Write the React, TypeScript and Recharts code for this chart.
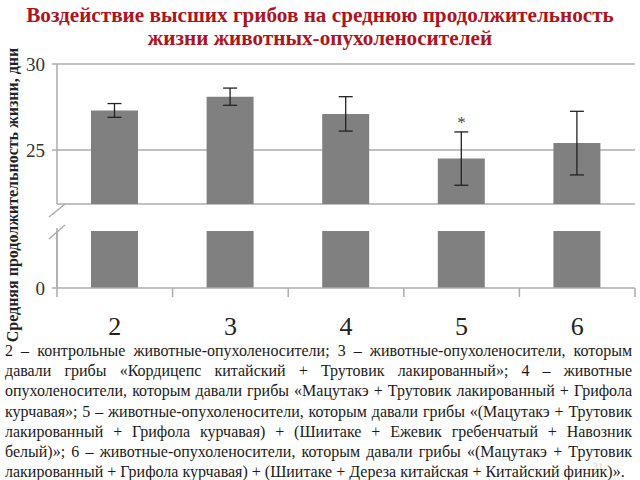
import React from 'react';
import { ComposedChart, Bar, Line, XAxis, YAxis, CartesianGrid, ErrorBar } from 'recharts';

const groups = ['2', '3', '4', '5', '6'];
const meanLife = [27.3, 28.1, 27.1, 24.5, 25.4];
const errLife = [0.4, 0.5, 1.0, 1.55, 1.85];
const significance = ['', '', '', '*', ''];
const upperTicks = [25, 30];
const lowerTicks = [0];
const upperDomain: [number, number] = [21.86, 30];
const lowerDomain: [number, number] = [0, 3.3];

const titleLines = [
  'Воздействие высших грибов на среднюю продолжительность',
  'жизни животных-опухоленосителей',
];
const yLabel = 'Средняя продолжительность жизни, дни';
const captionLines = [
  '2 – контрольные животные-опухоленосители; 3 – животные-опухоленосители, которым',
  'давали грибы «Кордицепс китайский + Трутовик лакированный»; 4 – животные',
  'опухоленосители, которым давали грибы «Мацутакэ + Трутовик лакированный + Грифола',
  'курчавая»; 5 – животные-опухоленосители, которым давали грибы «(Мацутакэ + Трутовик',
  'лакированный + Грифола курчавая) + (Шиитаке + Ежевик гребенчатый + Навозник',
  'белый)»; 6 – животные-опухоленосители, которым давали грибы «(Мацутакэ + Трутовик',
  'лакированный + Грифола курчавая) + (Шиитаке + Дереза китайская + Китайский финик)».',
];
const pageNumber = '31';

const data = groups.map((g, i) => ({
  group: g,
  mean: meanLife[i],
  err: errLife[i],
  sig: significance[i],
  star: significance[i] ? meanLife[i] + errLife[i] : null,
}));

const GRID = '#acacac';
const BAR = '#808080';
const FONT = 'Liberation Serif';

const yTickStyle = { fontSize: 19, fill: '#333', fontFamily: FONT };

const StarDot = (props: any) => {
  const { cx, cy, payload, index } = props;
  if (!payload || !payload.sig || cy == null) return <g key={`s${index}`} />;
  return (
    <text key={`s${index}`} x={cx} y={cy - 4} textAnchor="middle" fontSize={17} fill="#444" fontFamily={FONT}>
      {payload.sig}
    </text>
  );
};

const CatTick = (props: any) => {
  const { x, y, payload, index, width, visibleTicksCount } = props;
  const half = width && visibleTicksCount ? width / visibleTicksCount / 2 : payload.offset;
  return (
    <g>
      <line x1={x + half} x2={x + half} y1={y} y2={y + 9} stroke={GRID} strokeWidth={1.5} />
      {index === 0 && <line x1={x - half} x2={x - half} y1={y - 60} y2={y + 9} stroke={GRID} strokeWidth={1.5} />}
      <text x={x} y={y + 47} textAnchor="middle" fontSize={26} fill="#222" fontFamily={FONT}>
        {payload.value}
      </text>
    </g>
  );
};

export default function App() {
  return (
    <div style={{ position: 'absolute', left: 0, top: 0, width: 640, height: 480, background: '#fff', overflow: 'hidden', fontFamily: FONT }}>
      <div style={{ position: 'absolute', top: 4, left: 0, width: 640, textAlign: 'center', color: '#ad1420', fontWeight: 'bold', fontSize: 21.2, lineHeight: '23px', fontFamily: FONT }}>
        {titleLines.map((t, i) => (
          <div key={i}>{t}</div>
        ))}
      </div>

      <div style={{ position: 'absolute', left: 0, top: 0 }}>
        <ComposedChart width={640} height={210} data={data} margin={{ top: 64, right: 5, bottom: 6, left: 0 }}>
          <CartesianGrid vertical={false} stroke={GRID} strokeWidth={1.5} />
          <XAxis dataKey="group" hide />
          <YAxis
            domain={upperDomain}
            ticks={upperTicks}
            allowDataOverflow
            width={57}
            tick={yTickStyle}
            tickSize={5}
            tickMargin={7}
            axisLine={{ stroke: GRID, strokeWidth: 1.5 }}
            tickLine={{ stroke: GRID, strokeWidth: 1.5 }}
          />
          <Bar dataKey="mean" fill={BAR} barSize={47} isAnimationActive={false}>
            <ErrorBar dataKey="err" width={7} stroke="#222" strokeWidth={1.3} direction="y" />
          </Bar>
          <Line dataKey="star" stroke="none" dot={StarDot} activeDot={false} isAnimationActive={false} />
        </ComposedChart>
      </div>

      <div style={{ position: 'absolute', left: 0, top: 0 }}>
        <ComposedChart width={640} height={350} data={data} margin={{ top: 231, right: 5, bottom: 0, left: 0 }}>
          <XAxis
            dataKey="group"
            height={62}
            tickSize={0}
            tickMargin={0}
            tickLine={false}
            axisLine={{ stroke: GRID, strokeWidth: 1.5 }}
            tick={CatTick}
            interval={0}
          />
          <YAxis
            domain={lowerDomain}
            ticks={lowerTicks}
            allowDataOverflow
            width={57}
            tick={yTickStyle}
            tickSize={5}
            tickMargin={7}
            axisLine={{ stroke: GRID, strokeWidth: 1.5 }}
            tickLine={{ stroke: GRID, strokeWidth: 1.5 }}
          />
          <Bar dataKey="mean" fill={BAR} barSize={47} isAnimationActive={false} />
        </ComposedChart>
      </div>

      <svg width={640} height={480} style={{ position: 'absolute', left: 0, top: 0, pointerEvents: 'none' }}>
        <line x1={49} y1={217} x2={65} y2={204} stroke={GRID} strokeWidth={1.5} />
        <line x1={49} y1={239} x2={65} y2={225} stroke={GRID} strokeWidth={1.5} />
        <text transform="rotate(-90)" x={-195} y={18} textAnchor="middle" fontSize={16} fontWeight="bold" fill="#222" fontFamily={FONT}>
          {yLabel}
        </text>
        <text x={593} y={470} fontSize={10} fill="#d0d0d0" fontFamily={FONT}>{pageNumber}</text>
      </svg>

      <div style={{ position: 'absolute', left: 5, top: 341, width: 627, fontSize: 16, lineHeight: '20.2px', color: '#1a1a1a', fontFamily: FONT }}>
        {captionLines.map((t, i) => (
          <div
            key={i}
            style={{ textAlign: 'justify', textAlignLast: i === captionLines.length - 1 ? 'left' : 'justify', whiteSpace: 'nowrap' as any }}
          >
            {t}
          </div>
        ))}
      </div>
    </div>
  );
}
